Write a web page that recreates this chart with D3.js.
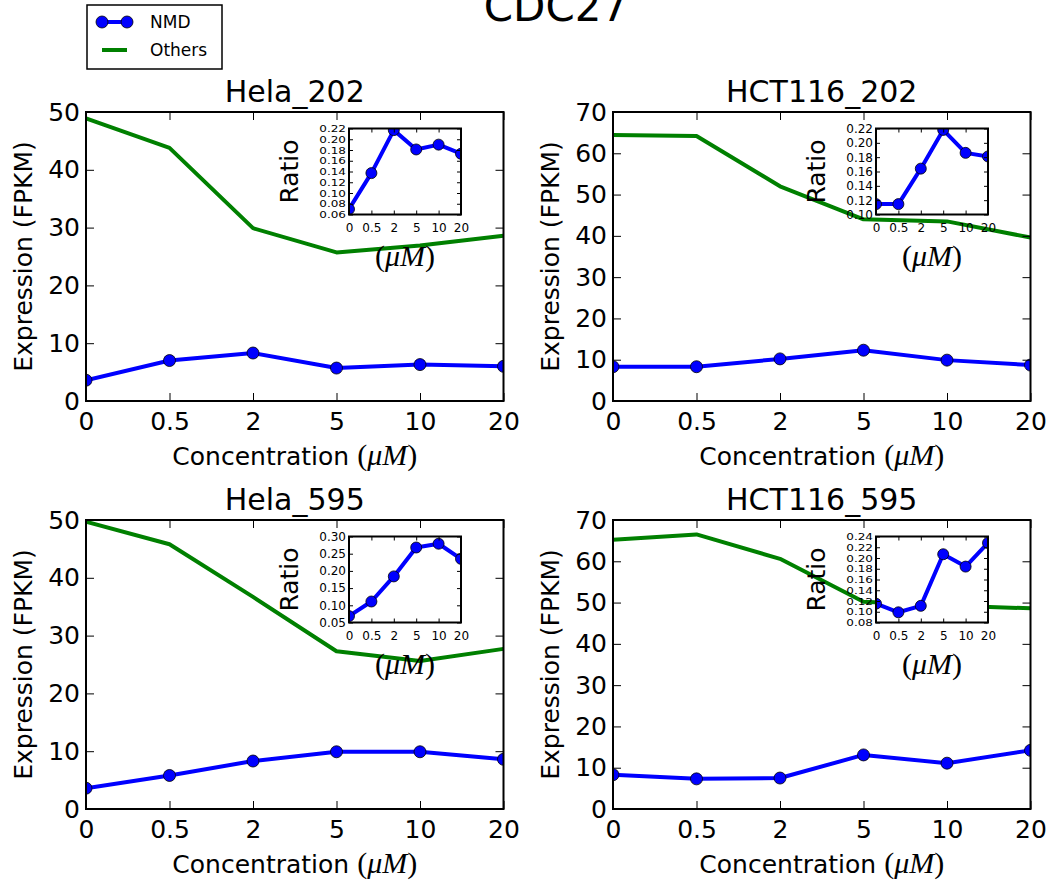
<!DOCTYPE html>
<html><head><meta charset="utf-8">
<script src="https://cdn.jsdelivr.net/npm/d3@7"></script>
<style>body{margin:0;background:#fff}svg{display:block}</style>
</head><body>
<script>
// ---------------- data ----------------
const categories = ["0", "0.5", "2", "5", "10", "20"];
const panelTitles = ["Hela_202", "HCT116_202", "Hela_595", "HCT116_595"];
const figTitle = "CDC27";
const seriesNames = ["NMD", "Others"];

const nmdHela202 = [3.6, 7.0, 8.3, 5.7, 6.3, 6.0];
const othersHela202 = [48.9, 43.8, 29.9, 25.7, 26.9, 28.6];
const ratioHela202 = [0.070, 0.137, 0.217, 0.181, 0.190, 0.173];

const nmdHct202 = [8.3, 8.3, 10.2, 12.3, 9.9, 8.7];
const othersHct202 = [64.4, 64.2, 52.0, 44.0, 43.5, 39.6];
const ratioHct202 = [0.1145, 0.1145, 0.164, 0.218, 0.186, 0.181];

const nmdHela595 = [3.6, 5.8, 8.3, 9.9, 9.9, 8.6];
const othersHela595 = [49.7, 45.8, 36.7, 27.3, 25.6, 27.7];
const ratioHela595 = [0.0686, 0.111, 0.184, 0.268, 0.279, 0.235];

const nmdHct595 = [8.3, 7.3, 7.5, 13.1, 11.1, 14.2];
const othersHct595 = [65.2, 66.5, 60.6, 50.2, 49.3, 48.6];
const ratioHct595 = [0.115, 0.099, 0.111, 0.207, 0.184, 0.228];

const yTicks50 = [0, 10, 20, 30, 40, 50];
const yTicks70 = [0, 10, 20, 30, 40, 50, 60, 70];
const insetTicksHela202 = [0.06, 0.08, 0.10, 0.12, 0.14, 0.16, 0.18, 0.20, 0.22];
const insetTicksHct202 = [0.10, 0.12, 0.14, 0.16, 0.18, 0.20, 0.22];
const insetTicksHela595 = [0.05, 0.10, 0.15, 0.20, 0.25, 0.30];
const insetTicksHct595 = [0.08, 0.10, 0.12, 0.14, 0.16, 0.18, 0.20, 0.22, 0.24];

const panels = [
  {title: panelTitles[0], nmd: nmdHela202, others: othersHela202, ratio: ratioHela202, yTicks: yTicks50, iTicks: insetTicksHela202},
  {title: panelTitles[1], nmd: nmdHct202, others: othersHct202, ratio: ratioHct202, yTicks: yTicks70, iTicks: insetTicksHct202},
  {title: panelTitles[2], nmd: nmdHela595, others: othersHela595, ratio: ratioHela595, yTicks: yTicks50, iTicks: insetTicksHela595},
  {title: panelTitles[3], nmd: nmdHct595, others: othersHct595, ratio: ratioHct595, yTicks: yTicks70, iTicks: insetTicksHct595}
];

// ---------------- layout ----------------
const W = 1053, H = 882;
const SANS = "DejaVu Sans";
const SERIF = "Liberation Serif";
const BLUE = "#0000ff", GREEN = "#008000";
const lefts = [86, 613], tops = [112, 520];
const PW = 417.5, PH = 289;
const INS = {dx: 263, dy: 16.5, w: 112, h: 86};

const svg = d3.select("body").append("svg").attr("width", W).attr("height", H)
  .style("font-family", SANS);
svg.append("rect").attr("width", W).attr("height", H).attr("fill", "#fff");
const defs = svg.append("defs");

function mathLabel(text, prefix, mfs) {
  if (prefix) text.append("tspan").text(prefix);
  text.append("tspan").attr("font-family", SERIF).attr("font-size", mfs).text("(");
  text.append("tspan").attr("font-family", SERIF).attr("font-size", mfs).attr("font-style", "italic").text("\u03bcM");
  text.append("tspan").attr("font-family", SERIF).attr("font-size", mfs).text(")");
}

function styleAxis(sel, fs) {
  sel.select(".domain").remove();
  sel.selectAll(".tick line").attr("stroke", "#000").attr("stroke-width", 1);
  sel.selectAll(".tick text").attr("font-family", SANS).attr("font-size", fs).attr("fill", "#000");
}

function drawFrame(g, x, y, w, h, yTickVals, opt) {
  const ax = {
    bottom: d3.axisBottom(x).tickSizeInner(-opt.tl).tickSizeOuter(0).tickPadding(opt.xpad),
    top: d3.axisTop(x).tickSizeInner(-opt.tl).tickSizeOuter(0).tickFormat(""),
    left: d3.axisLeft(y).tickValues(yTickVals).tickSizeInner(-opt.tl).tickSizeOuter(0).tickPadding(opt.ypad).tickFormat(opt.yFmt),
    right: d3.axisRight(y).tickValues(yTickVals).tickSizeInner(-opt.tl).tickSizeOuter(0).tickFormat("")
  };
  g.append("g").attr("transform", `translate(0,${h})`).call(ax.bottom).call(s => styleAxis(s, opt.fs));
  g.append("g").call(ax.top).call(s => styleAxis(s, opt.fs));
  const la = g.append("g").call(ax.left).call(s => styleAxis(s, opt.fs));
  if (opt.squish) {
    la.selectAll(".tick text").attr("transform", `scale(1,${opt.squish})`);
  }
  g.append("g").attr("transform", `translate(${w},0)`).call(ax.right).call(s => styleAxis(s, opt.fs));
  g.append("rect").attr("width", w).attr("height", h).attr("fill", "none")
    .attr("stroke", "#000").attr("stroke-width", opt.sw);
}

panels.forEach((p, i) => {
  const col = i % 2, row = Math.floor(i / 2);
  const L = lefts[col], T = tops[row];
  const g = svg.append("g").attr("transform", `translate(${L},${T})`);
  const x = d3.scalePoint().domain(categories).range([0, PW]).padding(0);
  const y = d3.scaleLinear().domain([0, d3.max(p.yTicks)]).range([PH, 0]);

  const cid = "clip" + i;
  defs.append("clipPath").attr("id", cid).append("rect").attr("width", PW).attr("height", PH);
  const plot = g.append("g").attr("clip-path", `url(#${cid})`);
  const line = d3.line().x((d, k) => x(categories[k])).y(d => y(d));
  plot.append("path").datum(p.nmd).attr("d", line).attr("fill", "none")
    .attr("stroke", BLUE).attr("stroke-width", 4).attr("stroke-linejoin", "round");
  plot.selectAll("circle.m").data(p.nmd).join("circle").attr("class", "m")
    .attr("cx", (d, k) => x(categories[k])).attr("cy", d => y(d)).attr("r", 6)
    .attr("fill", BLUE).attr("stroke", "#000").attr("stroke-width", 0.8);
  plot.append("path").datum(p.others).attr("d", line).attr("fill", "none")
    .attr("stroke", GREEN).attr("stroke-width", 4).attr("stroke-linejoin", "round");

  drawFrame(g, x, y, PW, PH, p.yTicks, {tl: 8, fs: 25, xpad: 11, ypad: 6, sw: 2, yFmt: d3.format("d")});

  // titles / labels
  g.append("text").attr("x", PW / 2).attr("y", -10).attr("text-anchor", "middle")
    .attr("font-size", 30).text(p.title);
  g.append("text").attr("transform", `translate(-54,${PH / 2}) rotate(-90)`)
    .attr("text-anchor", "middle").attr("font-size", 25).text("Expression (FPKM)");
  const xl = g.append("text").attr("x", PW / 2).attr("y", PH + 64).attr("text-anchor", "middle")
    .attr("font-size", 25);
  mathLabel(xl, "Concentration ", 30);

  // inset
  const ig = g.append("g").attr("transform", `translate(${INS.dx},${INS.dy})`);
  const ix = d3.scalePoint().domain(categories).range([0, INS.w]).padding(0);
  const iy = d3.scaleLinear().domain(d3.extent(p.iTicks)).range([INS.h, 0]);
  ig.append("rect").attr("width", INS.w).attr("height", INS.h).attr("fill", "#fff");
  const icid = "iclip" + i;
  defs.append("clipPath").attr("id", icid).append("rect").attr("width", INS.w).attr("height", INS.h);
  const iplot = ig.append("g").attr("clip-path", `url(#${icid})`);
  const iline = d3.line().x((d, k) => ix(categories[k])).y(d => iy(d));
  iplot.append("path").datum(p.ratio).attr("d", iline).attr("fill", "none")
    .attr("stroke", BLUE).attr("stroke-width", 4).attr("stroke-linejoin", "round");
  iplot.selectAll("circle").data(p.ratio).join("circle")
    .attr("cx", (d, k) => ix(categories[k])).attr("cy", d => iy(d)).attr("r", 5.5)
    .attr("fill", BLUE).attr("stroke", "#000").attr("stroke-width", 0.8);
  const crowded = p.iTicks.length > 7;
  drawFrame(ig, ix, iy, INS.w, INS.h, p.iTicks,
    {tl: 4, fs: 12, xpad: 9, ypad: 3, sw: 2, yFmt: d3.format(".2f"), squish: crowded ? 0.78 : null});
  ig.append("text").attr("transform", `translate(-51,${INS.h / 2}) rotate(-90)`)
    .attr("text-anchor", "middle").attr("font-size", 25).text("Ratio");
  const il = ig.append("text").attr("x", INS.w / 2).attr("y", INS.h + 51).attr("text-anchor", "middle")
    .attr("font-size", 30);
  mathLabel(il, "", 30);
});

// figure title
svg.append("text").attr("x", 556).attr("y", 21).attr("text-anchor", "middle")
  .attr("font-size", 42).text(figTitle);

// legend
const lg = svg.append("g");
lg.append("rect").attr("x", 87).attr("y", 5).attr("width", 135).attr("height", 64)
  .attr("fill", "#fff").attr("stroke", "#000").attr("stroke-width", 1.5);
const legendItems = [
  {name: seriesNames[0], color: BLUE, marker: true, y: 22},
  {name: seriesNames[1], color: GREEN, marker: false, y: 50}
];
legendItems.forEach(it => {
  lg.append("line").attr("x1", 102).attr("x2", 127).attr("y1", it.y).attr("y2", it.y)
    .attr("stroke", it.color).attr("stroke-width", 4);
  if (it.marker) {
    [102, 127].forEach(cx => lg.append("circle").attr("cx", cx).attr("cy", it.y).attr("r", 6)
      .attr("fill", BLUE).attr("stroke", "#000").attr("stroke-width", 0.8));
  }
  lg.append("text").attr("x", 150).attr("y", it.y).attr("dy", "0.35em")
    .attr("font-size", 17).text(it.name);
});
</script>
</body></html>
